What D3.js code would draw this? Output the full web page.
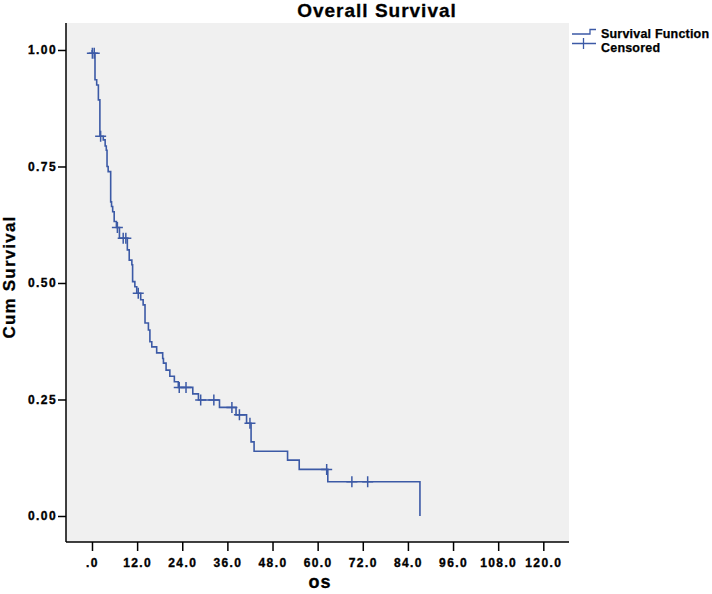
<!DOCTYPE html>
<html>
<head>
<meta charset="utf-8">
<script src="https://cdn.jsdelivr.net/npm/d3@7"></script>
<style>
  body { margin: 0; background: #fff; }
  text { font-family: "Liberation Sans", Arial, sans-serif; font-weight: bold; fill: #000; }
</style>
</head>
<body>
<svg id="svg" width="712" height="594"></svg>
<script>
const w = 712;
const h = 594;

// Kaplan-Meier steps (months, cumulative survival after the drop)
const eventTimes = [0.05, 0.8, 1.25, 1.7, 2.1, 3.0, 3.5, 3.8, 4.0, 4.3, 4.97, 5.2, 5.5, 5.9, 6.5, 7.3,
  9.4, 9.9, 10.6, 10.8, 11.4, 11.9, 12.95, 13.6, 14.1, 15.0, 15.4, 15.9, 17.2, 18.8, 19.0, 19.7,
  20.7, 21.9, 22.95, 26.8, 28.3, 33.9, 38.3, 41.1, 42.3, 43.1, 52.0, 55.1, 62.7, 87.2];
const survival = [0.993, 0.936, 0.925, 0.893, 0.815, 0.807, 0.794, 0.785, 0.75, 0.739, 0.674, 0.664, 0.653, 0.632, 0.619, 0.596,
  0.571, 0.549, 0.539, 0.503, 0.492, 0.478, 0.464, 0.453, 0.414, 0.399, 0.374, 0.363, 0.35, 0.338, 0.328, 0.313,
  0.3, 0.288, 0.276, 0.262, 0.249, 0.233, 0.217, 0.199, 0.159, 0.139, 0.12, 0.1, 0.0736, 0];

const censorTimes = [0.1, 0.6, 2.3, 6.75, 8.3, 9.0, 12.3, 23.2, 25.0, 28.9, 32.4, 37.2, 39.2, 42.0, 62.4, 69.1, 73.3];
const censorSurv = [0.993, 0.993, 0.815, 0.619, 0.596, 0.596, 0.478, 0.276, 0.276, 0.249, 0.249, 0.233, 0.217, 0.199, 0.1, 0.0736, 0.0736];

const xTicks = [0, 12, 24, 36, 48, 60, 72, 84, 96, 108, 120];
const yTicks = [0, 0.25, 0.5, 0.75, 1];

const title = "Overall Survival";
const xLabel = "os";
const yLabel = "Cum Survival";
const legendLabels = ["Survival Function", "Censored"];

const blue = "#3c5aa6";

const plot = { left: 66, right: 569, top: 23, bottom: 542 };

let svg = d3.select("#svg");

let xScale = d3.scaleLinear([-6.91, 126.83], [plot.left, plot.right]);
let yScale = d3.scaleLinear([-0.0558, 1.0579], [plot.bottom, plot.top]);

// plot background
svg
  .append("rect")
  .attr("x", plot.left)
  .attr("y", plot.top)
  .attr("width", plot.right - plot.left)
  .attr("height", plot.bottom - plot.top)
  .attr("fill", "#f0f0f0");

// axes
let xAxis = d3
  .axisBottom(xScale)
  .tickValues(xTicks)
  .tickSize(9)
  .tickSizeOuter(0)
  .tickFormat((d) => (d === 0 ? ".0" : d.toFixed(1)));

let yAxis = d3
  .axisLeft(yScale)
  .tickValues(yTicks)
  .tickSize(8)
  .tickSizeOuter(0)
  .tickFormat(d3.format(".2f"));

let gx = svg.append("g").attr("transform", `translate(0,${plot.bottom})`).call(xAxis);
let gy = svg.append("g").attr("transform", `translate(${plot.left},0)`).call(yAxis);

[gx, gy].forEach((g) => {
  g.select(".domain").attr("stroke", "#000").attr("stroke-width", 1.5);
  g.selectAll(".tick line").attr("stroke", "#000").attr("stroke-width", 1.5);
  g.selectAll(".tick text")
    .attr("fill", "#000")
    .attr("stroke", "#000")
    .attr("stroke-width", 0.35)
    .style("font-size", "12px")
    .style("letter-spacing", "1.4px");
});
gx.select(".domain").attr("d", `M${plot.left},0H${plot.right}`);
gy.select(".domain").attr("d", `M0,${plot.top}V${plot.bottom}`);
gx.selectAll(".tick text").attr("dy", "1.05em");
gy.selectAll(".tick text").attr("x", -9);

// survival curve
let stepData = [[0, 1]].concat(eventTimes.map((t, i) => [t, survival[i]]));

let lineFunc = d3
  .line()
  .x((d) => xScale(d[0]))
  .y((d) => yScale(d[1]))
  .curve(d3.curveStepAfter);

svg
  .append("path")
  .datum(stepData)
  .attr("fill", "none")
  .attr("stroke", blue)
  .attr("stroke-width", 1.6)
  .attr("d", lineFunc);

// censored marks
let censorData = censorTimes.map((t, i) => [t, censorSurv[i]]);

svg
  .append("g")
  .selectAll("path")
  .data(censorData)
  .join("path")
  .attr("fill", "none")
  .attr("stroke", blue)
  .attr("stroke-width", 1.5)
  .attr("d", (d) => {
    let cx = xScale(d[0]);
    let cy = yScale(d[1]);
    return `M${cx - 5.5},${cy}H${cx + 5.5}M${cx},${cy - 5.5}V${cy + 5.5}`;
  });

// titles
svg
  .append("text")
  .attr("x", 377)
  .attr("y", 17)
  .attr("text-anchor", "middle")
  .attr("stroke", "#000")
  .attr("stroke-width", 0.3)
  .style("font-size", "19px")
  .style("letter-spacing", "1px")
  .text(title);

svg
  .append("text")
  .attr("x", 320)
  .attr("y", 588)
  .attr("text-anchor", "middle")
  .attr("stroke", "#000")
  .attr("stroke-width", 0.3)
  .style("font-size", "18px")
  .style("letter-spacing", "1px")
  .text(xLabel);

svg
  .append("text")
  .attr("transform", "translate(15,277) rotate(-90)")
  .attr("text-anchor", "middle")
  .attr("stroke", "#000")
  .attr("stroke-width", 0.3)
  .style("font-size", "17px")
  .style("letter-spacing", "1.2px")
  .text(yLabel);

// legend
let legend = svg.append("g");

legend
  .append("path")
  .attr("fill", "none")
  .attr("stroke", blue)
  .attr("stroke-width", 1.3)
  .attr("d", "M572,34H590V29.5H596");

legend
  .append("path")
  .attr("fill", "none")
  .attr("stroke", blue)
  .attr("stroke-width", 1.3)
  .attr("d", "M572,43.5H596M583.5,38V49");

legend
  .selectAll("text")
  .data(legendLabels)
  .join("text")
  .attr("x", 601)
  .attr("y", (d, i) => 38 + i * 14)
  .attr("stroke", "#000")
  .attr("stroke-width", 0.25)
  .style("font-size", "12.5px")
  .style("letter-spacing", "0.2px")
  .text((d) => d);
</script>
</body>
</html>
